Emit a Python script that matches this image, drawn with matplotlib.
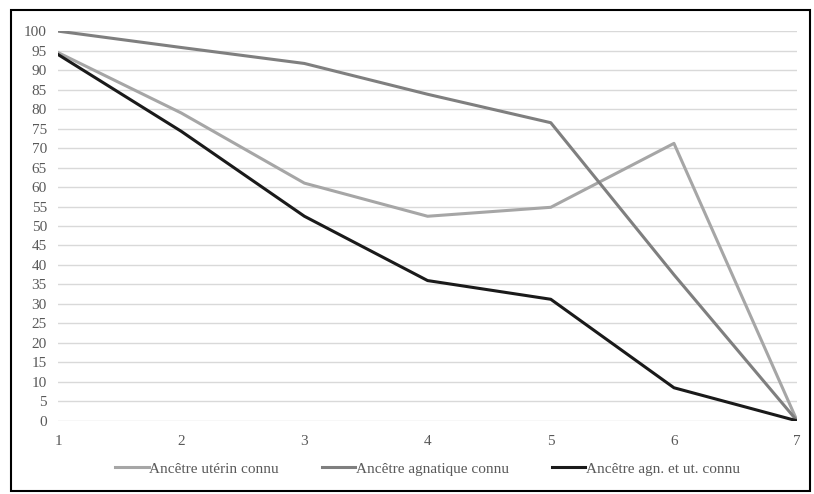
import matplotlib.pyplot as plt
from matplotlib.patches import Rectangle

plt.rcParams['font.family'] = ['Liberation Serif', 'DejaVu Serif']

generations = [1, 2, 3, 4, 5, 6, 7]
uterin = [94.5, 79, 61, 52.5, 54.8, 71.2, 0]
agnatique = [100, 95.8, 91.7, 83.8, 76.5, 37.5, 0]
les_deux = [94, 74.3, 52.5, 36, 31.2, 8.5, 0]
labels = ['Ancêtre utérin connu', 'Ancêtre agnatique connu', 'Ancêtre agn. et ut. connu']

fig = plt.figure(figsize=(8.14, 4.94), dpi=100)
ax = fig.add_axes([0.0713, 0.148, 0.908, 0.789])

ax.plot(generations, uterin, color='#a6a6a6', lw=2.2, label=labels[0])
ax.plot(generations, agnatique, color='#7f7f7f', lw=2.2, label=labels[1])
ax.plot(generations, les_deux, color='#1a1a1a', lw=2.2, label=labels[2])

ax.set_xlim(1, 7)
ax.set_ylim(0, 100)
ax.set_yticks(range(0, 101, 5))
ax.set_xticks(generations)
ax.grid(axis='y', color='#d9d9d9', lw=1)
ax.set_axisbelow(True)
for s in ax.spines.values():
    s.set_visible(False)
ax.tick_params(length=0, labelsize=11, colors='#595959', pad=8)
ax.tick_params(axis='x', pad=10)

ax.legend(loc='upper center', bbox_to_anchor=(0.5, -0.07), ncol=3, frameon=False,
          fontsize=11, handlelength=2.2, handletextpad=0.05, columnspacing=2.8,
          labelcolor='#595959')

fig.patches.append(Rectangle((0.0135, 0.006), 0.982, 0.974, transform=fig.transFigure,
                             fill=False, edgecolor='black', lw=1.5))

fig.savefig('out.png', dpi=100)
